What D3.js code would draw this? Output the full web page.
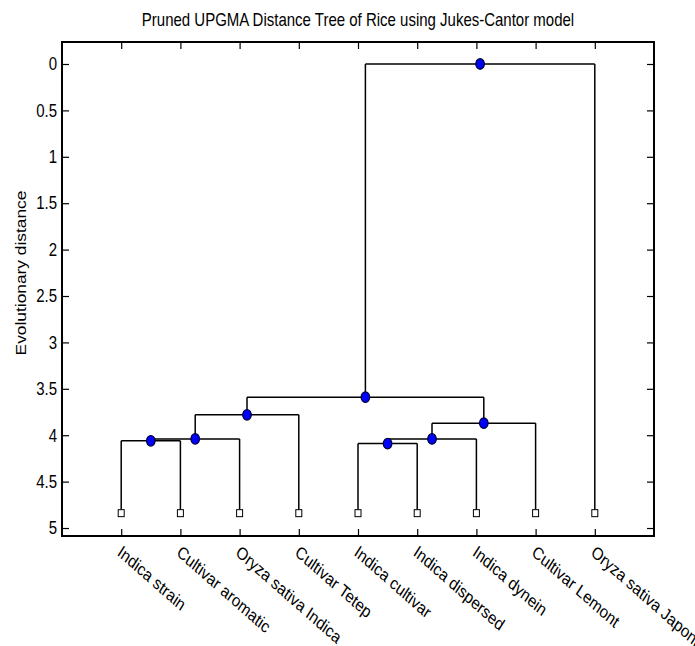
<!DOCTYPE html>
<html>
<head>
<meta charset="utf-8">
<script src="https://cdn.jsdelivr.net/npm/d3@7"></script>
<style>
  html, body { margin: 0; padding: 0; background: #fff; }
  svg { display: block; font-family: "Liberation Sans", Arial, sans-serif; }
</style>
</head>
<body>
<svg id="chart" width="695" height="646"></svg>
<script>
// ---------------- data ----------------
const title = "Pruned UPGMA Distance Tree of Rice using Jukes-Cantor model";
const yLabel = "Evolutionary distance";
const leafNames = ["Indica strain", "Cultivar aromatic", "Oryza sativa Indica", "Cultivar Tetep",
  "Indica cultivar", "Indica dispersed", "Indica dynein", "Cultivar Lemont", "Oryza sativa Japonica"];
const leafDistance = 4.84;
const nodeNames = ["N1", "N2", "N3", "N4", "N5", "N6", "N7", "N8"];
const nodeChildren = [["L0", "L1"], ["N1", "L2"], ["N2", "L3"], ["L4", "L5"],
  ["N4", "L6"], ["N5", "L7"], ["N3", "N6"], ["N7", "L8"]];
const nodeDistances = [4.06, 4.04, 3.78, 4.09, 4.04, 3.87, 3.59, 0];
const yTicks = [0, 0.5, 1, 1.5, 2, 2.5, 3, 3.5, 4, 4.5, 5];

// ---------------- layout ----------------
const box = { left: 62, top: 42, right: 654, bottom: 536 };
const K = 1.17; // vertical text stretch
const svg = d3.select("#chart");

const x = d3.scaleLinear().domain([0, leafNames.length + 1]).range([box.left, box.right]);
const y = d3.scaleLinear().domain([-0.237, 5.086]).range([box.top, box.bottom]);

// positions
const pos = {};
leafNames.forEach((n, i) => { pos["L" + i] = { x: i + 1, d: leafDistance, leaf: true }; });
nodeNames.forEach((n, i) => {
  const [a, b] = nodeChildren[i];
  pos[n] = { x: (pos[a].x + pos[b].x) / 2, d: nodeDistances[i], leaf: false };
});

// ---------------- axes ----------------
const leafTicks = leafNames.map((n, i) => i + 1);
svg.append("g").attr("transform", `translate(${box.left},0)`)
  .call(d3.axisLeft(y).tickValues(yTicks).tickSize(-7).tickSizeOuter(0).tickPadding(5).tickFormat(d3.format("")))
  .call(g => g.select(".domain").remove())
  .call(g => g.selectAll("text").attr("font-size", 15).attr("fill", "#000")
    .attr("font-family", "'Liberation Sans', Arial, sans-serif")
    .attr("transform", `scale(1,${K})`).attr("dy", "0.33em"));
svg.append("g").attr("transform", `translate(${box.right},0)`)
  .call(d3.axisRight(y).tickValues(yTicks).tickSize(-7).tickSizeOuter(0).tickFormat(""))
  .call(g => g.select(".domain").remove());
svg.append("g").attr("transform", `translate(0,${box.bottom})`)
  .call(d3.axisBottom(x).tickValues(leafTicks).tickSize(-7).tickSizeOuter(0).tickFormat(""))
  .call(g => g.select(".domain").remove());
svg.append("g").attr("transform", `translate(0,${box.top})`)
  .call(d3.axisTop(x).tickValues(leafTicks).tickSize(-7).tickSizeOuter(0).tickFormat(""))
  .call(g => g.select(".domain").remove());
svg.selectAll(".tick line").attr("stroke", "#000").attr("stroke-width", 1.2);

svg.append("rect")
  .attr("x", box.left).attr("y", box.top)
  .attr("width", box.right - box.left).attr("height", box.bottom - box.top)
  .attr("fill", "none").attr("stroke", "#000").attr("stroke-width", 2);

// x labels
svg.append("g").selectAll("text").data(leafNames).join("text")
  .attr("transform", (d, i) => `translate(${x(i + 1) + 2},${box.bottom + 8}) scale(1,${K}) rotate(37)`)
  .attr("dy", "0.75em")
  .attr("font-size", 15).attr("fill", "#000")
  .text(d => d);

// title
svg.append("text")
  .attr("transform", `translate(${(box.left + box.right) / 2},26) scale(1,${K})`)
  .attr("text-anchor", "middle").attr("font-size", 15).attr("fill", "#000")
  .text(title);

// y label
svg.append("text")
  .attr("transform", `translate(26,${(193 + 353) / 2}) scale(1,1.12) rotate(-90)`)
  .attr("text-anchor", "middle").attr("font-size", 15.5).attr("fill", "#000")
  .text(yLabel);

// ---------------- tree ----------------
const tree = svg.append("g").attr("fill", "none").attr("stroke", "#000").attr("stroke-width", 1.5);
nodeNames.forEach((n, i) => {
  const p = pos[n];
  const [a, b] = nodeChildren[i].map(c => pos[c]);
  tree.append("line")
    .attr("x1", x(a.x)).attr("x2", x(b.x)).attr("y1", y(p.d)).attr("y2", y(p.d));
  [a, b].forEach(c => {
    tree.append("line")
      .attr("x1", x(c.x)).attr("x2", x(c.x)).attr("y1", y(p.d)).attr("y2", y(c.d) - (c.leaf ? 3.5 : 0));
  });
});

// leaves
svg.append("g").selectAll("rect").data(leafNames).join("rect")
  .attr("x", (d, i) => x(i + 1) - 3).attr("y", y(leafDistance) - 3.5)
  .attr("width", 6).attr("height", 7)
  .attr("fill", "#fff").attr("stroke", "#000").attr("stroke-width", 1);

// internal node dots
svg.append("g").selectAll("ellipse").data(nodeNames).join("ellipse")
  .attr("cx", d => x(pos[d].x)).attr("cy", d => y(pos[d].d))
  .attr("rx", 4.3).attr("ry", 5.3)
  .attr("fill", "#0000ff").attr("stroke", "#000033").attr("stroke-width", 1.2);
</script>
</body>
</html>
